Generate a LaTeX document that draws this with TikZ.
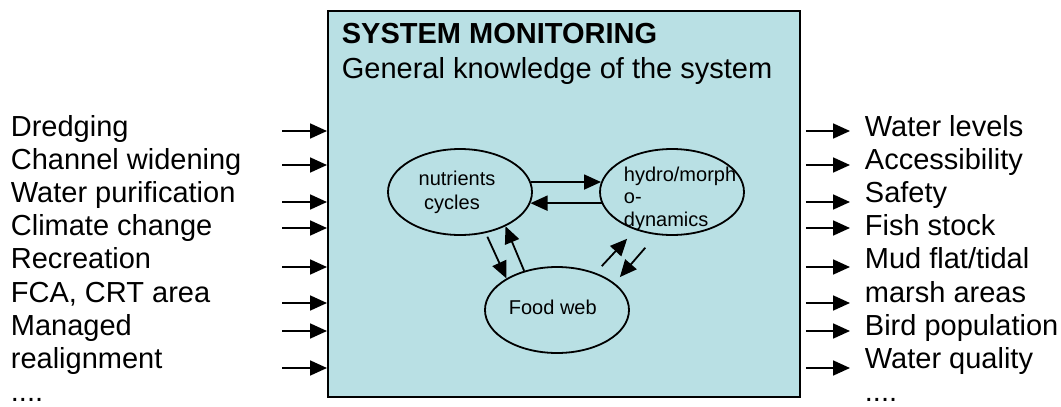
\documentclass[tikz,border=0pt]{standalone}
\usepackage{fontspec}
\setmainfont{Liberation Sans}
\usetikzlibrary{shapes.geometric,arrows.meta}
\definecolor{boxblue}{RGB}{185,224,228}

\begin{document}
\begin{tikzpicture}[x=1pt, y=-1pt, >={Triangle[length=17pt, width=15pt]}, line width=1.8pt]
	\tikzstyle{txt}=[anchor=base west, inner sep=0, font=\fontsize{29}{33}\selectfont]
	\tikzstyle{smalltxt}=[inner sep=0, font=\fontsize{20}{24}\selectfont]
	\tikzstyle{blob}=[ellipse, draw=black, minimum width=144pt, minimum height=86pt, inner sep=0]
	\useasboundingbox (0, 0) rectangle (1061, 407);

	% monitoring box
	\draw node[rectangle, draw=black, fill=boxblue, anchor=north west, minimum width=472pt, minimum height=386pt, inner sep=0] at (327, 10) (box) {};
	\draw node[txt] at (341, 43) (title) {\textbf{SYSTEM MONITORING}};
	\draw node[txt] at (341, 78) (subtitle) {General knowledge of the system};

	% system parts
	\draw node[blob] at (460, 192) (nutr) {};
	\draw node[blob] at (672, 192) (hydro) {};
	\draw node[blob] at (557, 310) (food) {};
	\draw node[smalltxt, anchor=base] at (457, 185) (nutr1) {nutrients};
	\draw node[smalltxt, anchor=base] at (452, 209) (nutr2) {cycles};
	\draw node[smalltxt, anchor=base west] at (623, 181) (hydro1) {hydro/morph};
	\draw node[smalltxt, anchor=base west] at (623, 203) (hydro2) {o-};
	\draw node[smalltxt, anchor=base west] at (623, 226) (hydro3) {dynamics};
	\draw node[smalltxt, anchor=base west] at (508, 314) (food1) {Food web};

	\draw [->] (nutr.8) -- (hydro.172);
	\draw [->] (hydro.189) -- (nutr.351);
	\draw [->, shorten <=4pt] (nutr.-58) -- (food.148);
	\draw [->] (food.130) -- (nutr.-37);
	\draw [->, shorten <=9pt, shorten >=12pt] (food.44) -- (hydro.226);
	\draw [->, shorten <=17pt, shorten >=8pt] (hydro.250) -- (food.25);

	% inputs
	\draw node[txt] at (10, 136) (dredging) {Dredging};
	\draw node[txt] at (10, 169) (channel) {Channel widening};
	\draw node[txt] at (10, 202) (purif) {Water purification};
	\draw node[txt] at (10, 235) (climate) {Climate change};
	\draw node[txt] at (10, 268) (recr) {Recreation};
	\draw node[txt] at (10, 302) (fca) {FCA, CRT area};
	\draw node[txt] at (10, 335) (managed) {Managed};
	\draw node[txt] at (10, 368) (realign) {realignment};
	\draw node[txt] at (10, 401) (indots) {....};

	\coordinate (in1) at (282, 131);
	\coordinate (in2) at (282, 165);
	\coordinate (in3) at (282, 202);
	\coordinate (in4) at (282, 228);
	\coordinate (in5) at (282, 267);
	\coordinate (in6) at (282, 303);
	\coordinate (in7) at (282, 331);
	\coordinate (in8) at (282, 368);
	\draw [->] (in1) -- (in1 -| box.west);
	\draw [->] (in2) -- (in2 -| box.west);
	\draw [->] (in3) -- (in3 -| box.west);
	\draw [->] (in4) -- (in4 -| box.west);
	\draw [->] (in5) -- (in5 -| box.west);
	\draw [->] (in6) -- (in6 -| box.west);
	\draw [->] (in7) -- (in7 -| box.west);
	\draw [->] (in8) -- (in8 -| box.west);

	% outputs
	\draw node[txt] at (864, 136) (levels) {Water levels};
	\draw node[txt] at (864, 169) (access) {Accessibility};
	\draw node[txt] at (864, 202) (safety) {Safety};
	\draw node[txt] at (864, 235) (fish) {Fish stock};
	\draw node[txt] at (864, 268) (mud) {Mud flat/tidal};
	\draw node[txt] at (864, 302) (marsh) {marsh areas};
	\draw node[txt] at (864, 335) (bird) {Bird population};
	\draw node[txt] at (864, 368) (quality) {Water quality};
	\draw node[txt] at (864, 401) (outdots) {....};

	\coordinate (out1) at (850, 131);
	\coordinate (out2) at (850, 165);
	\coordinate (out3) at (850, 202);
	\coordinate (out4) at (850, 228);
	\coordinate (out5) at (850, 267);
	\coordinate (out6) at (850, 303);
	\coordinate (out7) at (850, 331);
	\coordinate (out8) at (850, 368);
	\draw [->, shorten <=5pt] (out1 -| box.east) -- (out1);
	\draw [->, shorten <=5pt] (out2 -| box.east) -- (out2);
	\draw [->, shorten <=5pt] (out3 -| box.east) -- (out3);
	\draw [->, shorten <=5pt] (out4 -| box.east) -- (out4);
	\draw [->, shorten <=5pt] (out5 -| box.east) -- (out5);
	\draw [->, shorten <=5pt] (out6 -| box.east) -- (out6);
	\draw [->, shorten <=5pt] (out7 -| box.east) -- (out7);
	\draw [->, shorten <=5pt] (out8 -| box.east) -- (out8);
\end{tikzpicture}
\end{document}
